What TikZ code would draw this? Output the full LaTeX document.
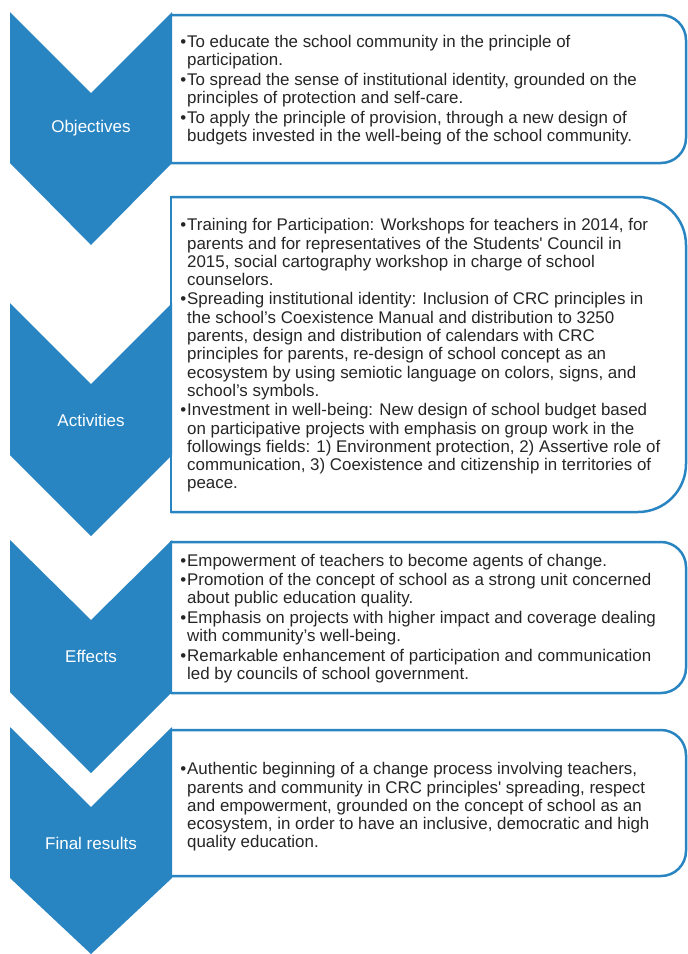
\documentclass[tikz,border=0pt]{standalone}
\usepackage{fontspec}
\setmainfont{Liberation Sans}
\definecolor{chev}{RGB}{41,133,194}
\definecolor{txt}{RGB}{38,38,38}
\newcommand\bul{\llap{\textbullet\kern0.8pt}}
\newcommand\sq{\textquotesingle}
\newcommand\infobox[3]{%
  \fill[white,rounded corners=#3] (171,#1) -- (686,#1) -- (686,#2) -- (171,#2) -- cycle;
  \draw[boxline,rounded corners=#3] (171,#1) -- (686,#1) -- (686,#2) -- (171,#2);
  \draw[boxline,line cap=rect] (171,#1) -- (171,#2);}
\newcommand\chevron[4]{%
  \fill[chev] (10,#1) -- (91,#2) -- (172,#1) -- (172,#3) -- (91,#4) -- (10,#3) -- cycle;}
\begin{document}
\begin{tikzpicture}[x=1pt,y=-1pt,
  boxline/.style={draw=chev,line width=2.5pt},
  lbl/.style={text=white,font=\fontsize{17}{20}\selectfont,inner sep=0pt},
  body/.style={text=txt,font=\fontsize{16.9}{18.3}\selectfont,align=left,anchor=west,inner sep=0pt}]
\useasboundingbox (0,0) rectangle (688,954);
\fill[white] (0,0) rectangle (688,954);
% boxes
\infobox{15}{163}{25}
\infobox{197}{512}{48}
\infobox{542}{693}{25}
\infobox{730}{876}{25}
% chevrons
\chevron{12}{93}{163}{245}
\chevron{303}{384}{455}{536}
\chevron{540}{620}{692}{773}
\chevron{727}{807}{878}{954}
% labels
\node[lbl] (l1) at (91,128) {Objectives};
\node[lbl] (l2) at (91,420) {Activities};
\node[lbl] (l3) at (91,656) {Effects};
\node[lbl] (l4) at (91,843) {Final results};
% texts
\node[body] (t1) at (187,90) {\bul To educate the school community in the principle of\\participation.\\[1.2pt]
\bul To spread the sense of institutional identity, grounded on the\\principles of protection and self-care.\\[1.2pt]
\bul To apply the principle of provision, through a new design of\\budgets invested in the well-being of the school community.};
\node[body] (t2) at (187,355.5) {\bul Training for Participation: Workshops for teachers in 2014, for\\parents and for representatives of the Students\sq{} Council in\\2015, social cartography workshop in charge of school\\counselors.\\[1pt]
\bul Spreading institutional identity: Inclusion of CRC principles in\\the school’s Coexistence Manual and distribution to 3250\\parents, design and distribution of calendars with CRC\\principles for parents, re-design of school concept as an\\ecosystem by using semiotic language on colors, signs, and\\school’s symbols.\\[1pt]
\bul Investment in well-being: New design of school budget based\\on participative projects with emphasis on group work in the\\followings fields: 1) Environment protection, 2) Assertive role of\\communication, 3) Coexistence and citizenship in territories of\\peace.};
\node[body] (t3) at (187,618.5) {\bul Empowerment of teachers to become agents of change.\\[1.2pt]
\bul Promotion of the concept of school as a strong unit concerned\\about public education quality.\\[1.2pt]
\bul Emphasis on projects with higher impact and coverage dealing\\with community’s well-being.\\[1.2pt]
\bul Remarkable enhancement of participation and communication\\led by councils of school government.};
\node[body] (t4) at (187,807) {\bul Authentic beginning of a change process involving teachers,\\parents and community in CRC principles\sq{} spreading, respect\\and empowerment, grounded on the concept of school as an\\ecosystem, in order to have an inclusive, democratic and high\\quality education.};
\end{tikzpicture}
\end{document}
